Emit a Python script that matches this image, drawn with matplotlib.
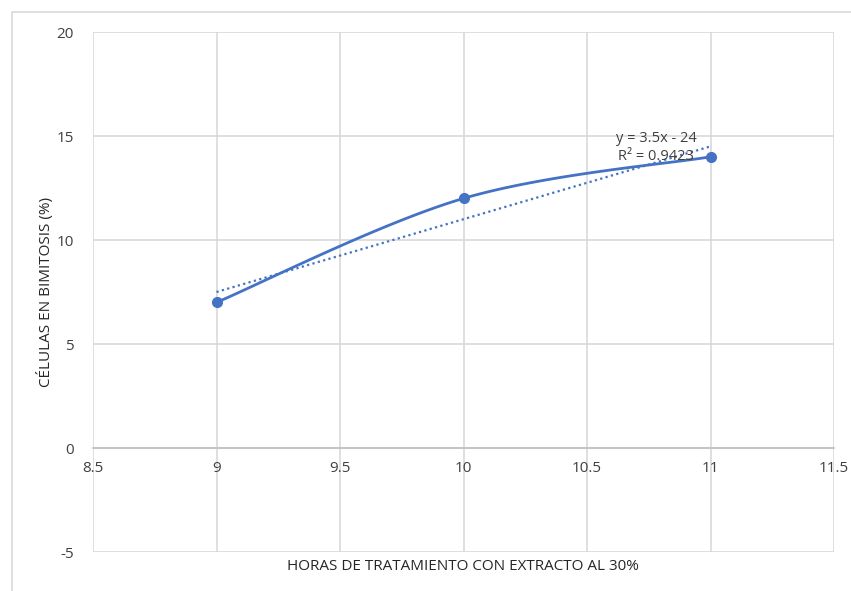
import numpy as np
import matplotlib
matplotlib.use("Agg")
import matplotlib.pyplot as plt
from matplotlib.patches import Rectangle

horas = [9, 10, 11]
celulas = [7, 12, 14]
x_ticks = [8.5, 9, 9.5, 10, 10.5, 11, 11.5]
y_ticks = [-5, 0, 5, 10, 15, 20]

plt.rcParams['font.family'] = ['Open Sans', 'DejaVu Sans']
plt.rcParams['axes.unicode_minus'] = False
azul = '#4472C4'
gris = '#D9D9D9'


def curva_suave(xs, ys, n=60):
    # spline tipo Excel (Bezier con tangentes de Catmull-Rom)
    p = np.column_stack([xs, ys]).astype(float)
    out = []
    for i in range(len(p) - 1):
        a = p[i - 1] if i > 0 else p[i]
        b, c = p[i], p[i + 1]
        d = p[i + 2] if i + 2 < len(p) else p[i + 1]
        c1 = b + (c - a) / 6
        c2 = c - (d - b) / 6
        t = np.linspace(0, 1, n)[:, None]
        seg = (1 - t) ** 3 * b + 3 * (1 - t) ** 2 * t * c1 + 3 * (1 - t) * t ** 2 * c2 + t ** 3 * c
        out.append(seg)
    out = np.vstack(out)
    return out[:, 0], out[:, 1]


fig = plt.figure(figsize=(8.51, 5.91), dpi=100)
fig.patches.append(Rectangle((12 / 851, -0.1), 1.1, (591 - 12) / 591 + 0.1,
                             transform=fig.transFigure, fill=False,
                             edgecolor=gris, lw=1.2))
ax = fig.add_axes([93 / 851, 39 / 591, 741 / 851, 520 / 591])

ax.set_xlim(8.5, 11.5)
ax.set_ylim(-5, 20)
ax.set_xticks(x_ticks)
ax.set_yticks(y_ticks)
ax.set_xticklabels([f'{v:g}' for v in x_ticks])
ax.grid(True, color=gris, lw=1.2)
ax.set_axisbelow(True)
for s in ['top', 'right', 'left']:
    ax.spines[s].set_visible(False)
ax.spines['bottom'].set_position(('data', 0))
ax.spines['bottom'].set_color('#BFBFBF')
ax.spines['bottom'].set_linewidth(1.2)
ax.tick_params(length=0, labelsize=11, colors='#404040')
ax.tick_params(axis='x', pad=9)
ax.tick_params(axis='y', pad=14)

sx, sy = curva_suave(horas, celulas)
ax.plot(sx, sy, color=azul, lw=2)
ax.plot(horas, celulas, 'o', color=azul, ms=7)

m, b = np.polyfit(horas, celulas, 1)
ajuste = m * np.array(horas) + b
r2 = 1 - np.sum((np.array(celulas) - ajuste) ** 2) / np.sum((np.array(celulas) - np.mean(celulas)) ** 2)
xt = np.array([horas[0], horas[-1]])
ax.plot(xt, m * xt + b, color=azul, lw=1.6, ls=(0, (1, 1.5)))
ax.text(10.78, 14.45, f'y = {m:g}x - {abs(b):g}\nR² = {r2:.4f}', ha='center', va='center',
        fontsize=10.5, color='#404040', linespacing=1.25)

fig.text(46 / 851, 1 - 292 / 591, 'CÉLULAS EN BIMITOSIS (%)', rotation=90,
         ha='center', va='center', fontsize=11, color='#262626')
fig.text(463 / 851, 1 - 567 / 591, 'HORAS DE TRATAMIENTO CON EXTRACTO AL 30%',
         ha='center', va='center', fontsize=11, color='#262626')

fig.savefig('out.png', dpi=100)
